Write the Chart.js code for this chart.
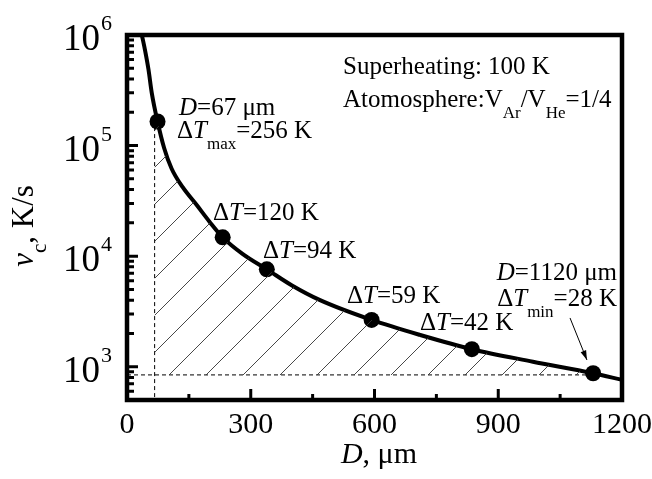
<!DOCTYPE html>
<html>
<head>
<meta charset="utf-8">
<script src="https://cdn.jsdelivr.net/npm/chart.js@4"></script>
<style>
  html, body { margin: 0; padding: 0; background: #fff; }
  #wrap { width: 652px; height: 479px; position: relative; }
</style>
</head>
<body>
<div id="wrap"><canvas id="grafico"></canvas></div>
<script>
// curva v_c(D)
const curvaD = [36, 44, 52, 60, 74, 90, 108, 135, 169, 200, 232, 280, 339, 400, 468, 593, 710, 836, 984, 1130, 1200];
const curvaV = [1e6, 7.2e5, 4.9e5, 3.0e5, 1.65e5, 9.5e4, 6.2e4, 4.2e4, 2.9e4, 2.05e4, 1.48e4, 1.05e4, 7600, 5430, 4000, 2650, 1940, 1440, 1110, 873, 760];

// puntos marcados
const puntosD = [74, 232, 339, 593, 836, 1130];
const puntosV = [1.65e5, 1.48e4, 7600, 2650, 1440, 873];

// limites de la zona rayada
const dMin = 67;
const vMin = 843;

const ticksX = [0, 300, 600, 900, 1200];
const ticksXmenores = [150, 450, 750, 1050];
const exponentesY = [3, 4, 5, 6];

const FUENTE = '"Liberation Serif", "Times New Roman", serif';

// patron de rayas diagonales
function crearRayado() {
    const c = document.createElement('canvas');
    c.width = 37; c.height = 37;
    const g = c.getContext('2d');
    g.strokeStyle = '#333';
    g.lineWidth = 0.9;
    g.beginPath();
    g.moveTo(0, 37); g.lineTo(37, 0);
    g.moveTo(-1, 1); g.lineTo(1, -1);
    g.moveTo(36, 38); g.lineTo(38, 36);
    g.stroke();
    const p = g.createPattern(c, 'repeat');
    if (p.setTransform) p.setTransform(new DOMMatrix().translate(26, 0));
    return p;
}

// texto con cursiva y subindices
function anchoRico(ctx, partes, size) {
    let w = 0;
    partes.forEach(p => {
        const fs = p.sub ? size * 0.68 : size;
        ctx.font = (p.it ? 'italic ' : '') + fs + 'px ' + FUENTE;
        w += ctx.measureText(p.t).width;
    });
    return w;
}
function textoRico(ctx, partes, x, y, size, align) {
    if (align === 'right') x -= anchoRico(ctx, partes, size);
    if (align === 'center') x -= anchoRico(ctx, partes, size) / 2;
    ctx.textAlign = 'left';
    ctx.textBaseline = 'alphabetic';
    partes.forEach(p => {
        const fs = p.sub ? size * 0.68 : size;
        ctx.font = (p.it ? 'italic ' : '') + fs + 'px ' + FUENTE;
        ctx.fillText(p.t, x, y + (p.sub ? size * 0.42 : 0));
        x += ctx.measureText(p.t).width;
    });
}

const anotaciones = [
    { x: 179, y: 115, al: 'left', partes: [{ t: 'D', it: 1 }, { t: '=67 μm' }] },
    { x: 177, y: 138, al: 'left', partes: [{ t: 'Δ' }, { t: 'T', it: 1 }, { t: 'max', sub: 1 }, { t: '=256 K' }] },
    { x: 213, y: 220, al: 'left', partes: [{ t: 'Δ' }, { t: 'T', it: 1 }, { t: '=120 K' }] },
    { x: 263, y: 258, al: 'left', partes: [{ t: 'Δ' }, { t: 'T', it: 1 }, { t: '=94 K' }] },
    { x: 347, y: 303, al: 'left', partes: [{ t: 'Δ' }, { t: 'T', it: 1 }, { t: '=59 K' }] },
    { x: 420, y: 330, al: 'left', partes: [{ t: 'Δ' }, { t: 'T', it: 1 }, { t: '=42 K' }] },
    { x: 617, y: 280, al: 'right', partes: [{ t: 'D', it: 1 }, { t: '=1120 μm' }] },
    { x: 617, y: 306, al: 'right', partes: [{ t: 'Δ' }, { t: 'T', it: 1 }, { t: 'min', sub: 1 }, { t: '=28 K' }] },
    { x: 343, y: 74, al: 'left', partes: [{ t: 'Superheating: 100 K' }] },
    { x: 343, y: 107, al: 'left', partes: [{ t: 'Atomosphere:V' }, { t: 'Ar', sub: 1 }, { t: '/V' }, { t: 'He', sub: 1 }, { t: '=1/4' }] }
];

const pluginEjes = {
    id: 'ejes',
    afterDraw(chart) {
        const ctx = chart.ctx;
        const a = chart.chartArea;
        const sx = chart.scales.x, sy = chart.scales.y;
        ctx.save();
        ctx.fillStyle = '#000';
        ctx.strokeStyle = '#000';

        // ticks hacia adentro
        ctx.lineWidth = 3;
        ctx.beginPath();
        ticksX.forEach(v => {
            const px = sx.getPixelForValue(v);
            ctx.moveTo(px, a.bottom); ctx.lineTo(px, a.bottom - 11);
        });
        ticksXmenores.forEach(v => {
            const px = sx.getPixelForValue(v);
            ctx.moveTo(px, a.bottom); ctx.lineTo(px, a.bottom - 6);
        });
        for (let e = 2; e <= 6; e++) {
            for (let m = 1; m <= 9; m++) {
                const v = m * Math.pow(10, e);
                if (v < sy.min || v > sy.max) continue;
                const py = sy.getPixelForValue(v);
                ctx.moveTo(a.left, py); ctx.lineTo(a.left + (m === 1 ? 11 : 7), py);
            }
        }
        ctx.stroke();

        // marco
        ctx.lineWidth = 4.5;
        ctx.strokeRect(a.left, a.top, a.right - a.left, a.bottom - a.top);

        // flecha
        const x1 = sx.getPixelForValue(1074), y1 = sy.getPixelForValue(2760);
        const x2 = sx.getPixelForValue(1115), y2 = sy.getPixelForValue(1150);
        ctx.lineWidth = 1;
        ctx.beginPath(); ctx.moveTo(x1, y1); ctx.lineTo(x2, y2); ctx.stroke();
        const ang = Math.atan2(y2 - y1, x2 - x1);
        ctx.beginPath();
        ctx.moveTo(x2, y2);
        ctx.lineTo(x2 - 10 * Math.cos(ang - 0.3), y2 - 10 * Math.sin(ang - 0.3));
        ctx.lineTo(x2 - 10 * Math.cos(ang + 0.3), y2 - 10 * Math.sin(ang + 0.3));
        ctx.closePath(); ctx.fill();

        // etiquetas de ticks
        ctx.font = '30px ' + FUENTE;
        ctx.textAlign = 'center';
        ctx.textBaseline = 'alphabetic';
        ticksX.forEach(v => ctx.fillText(String(v), sx.getPixelForValue(v), 433));

        exponentesY.forEach(e => {
            const py = sy.getPixelForValue(Math.pow(10, e));
            ctx.font = '37px ' + FUENTE;
            ctx.textAlign = 'right';
            ctx.fillText('10', 100, py + 15);
            ctx.font = '22px ' + FUENTE;
            ctx.textAlign = 'left';
            ctx.fillText(String(e), 101, py - 5);
        });

        // titulos de ejes
        textoRico(ctx, [{ t: 'D', it: 1 }, { t: ', μm' }], 379, 463, 30, 'center');
        ctx.save();
        ctx.translate(33, 226);
        ctx.rotate(-Math.PI / 2);
        textoRico(ctx, [{ t: 'v', it: 1 }, { t: 'c', sub: 1 }, { t: ', K/s' }], 0, 0, 31, 'center');
        ctx.restore();

        // anotaciones
        anotaciones.forEach(n => textoRico(ctx, n.partes, n.x, n.y, 25, n.al));
        ctx.restore();
    }
};

const datosCurva = curvaD.map((d, i) => ({ x: d, y: curvaV[i] }));
const datosRayado = [{ x: dMin, y: 2.0e5 }].concat(datosCurva.filter(p => p.x >= 74 && p.x <= 1130));
const datosPuntos = puntosD.map((d, i) => ({ x: d, y: puntosV[i] }));

new Chart(document.getElementById('grafico'), {
    type: 'scatter',
    data: {
        datasets: [
            {
                data: datosRayado,
                showLine: true,
                borderWidth: 0,
                pointRadius: 0,
                backgroundColor: crearRayado(),
                fill: { value: vMin },
                cubicInterpolationMode: 'monotone'
            },
            {
                data: [{ x: dMin, y: 1.7e5 }, { x: dMin, y: 500 }],
                showLine: true,
                borderColor: '#000',
                borderWidth: 1,
                borderDash: [4, 3],
                pointRadius: 0
            },
            {
                data: [{ x: 0, y: vMin }, { x: 1130, y: vMin }],
                showLine: true,
                borderColor: '#000',
                borderWidth: 1,
                borderDash: [4, 3],
                pointRadius: 0
            },
            {
                data: datosCurva,
                showLine: true,
                borderColor: '#000',
                borderWidth: 4,
                pointRadius: 0,
                cubicInterpolationMode: 'monotone'
            },
            {
                data: datosPuntos,
                showLine: false,
                pointRadius: 8,
                pointBackgroundColor: '#000',
                pointBorderColor: '#000',
                pointBorderWidth: 0
            }
        ]
    },
    options: {
        responsive: true,
        maintainAspectRatio: false,
        animation: false,
        layout: { padding: { left: 127, top: 35, right: 30, bottom: 79 } },
        plugins: { legend: { display: false }, tooltip: { enabled: false } },
        scales: {
            x: { type: 'linear', min: 0, max: 1200, display: false },
            y: { type: 'logarithmic', min: 500, max: 1e6, display: false }
        }
    },
    plugins: [pluginEjes]
});
</script>
</body>
</html>
